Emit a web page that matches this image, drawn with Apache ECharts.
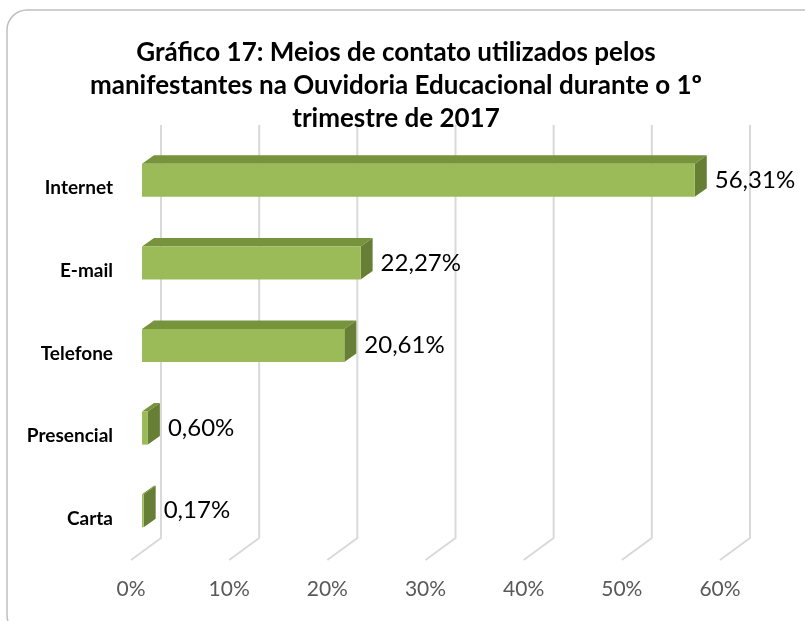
<!DOCTYPE html>
<html>
<head>
<meta charset="utf-8">
<script src="https://cdn.jsdelivr.net/npm/echarts@6/dist/echarts.min.js"></script>
<style>
  html, body { margin: 0; padding: 0; background: #fff; }
  #chart { width: 805px; height: 621px; }
</style>
</head>
<body>
<div id="chart"></div>
<script>
  // dados do gráfico
  var categorias = ['Carta', 'Presencial', 'Telefone', 'E-mail', 'Internet'];
  var valores = [0.17, 0.60, 20.61, 22.27, 56.31];
  var rotulos = ['0,17%', '0,60%', '20,61%', '22,27%', '56,31%'];
  var ticks = [0, 10, 20, 30, 40, 50, 60];

  var fonte = 'Lato, "Open Sans", sans-serif';
  // profundidade do efeito 3D (pixels)
  var DX = 30, DY = 22;

  var chart = echarts.init(document.getElementById('chart'));

  chart.setOption({
    animation: false,
    title: {
      text: 'Gráfico 17: Meios de contato utilizados pelos\nmanifestantes na Ouvidoria Educacional durante o 1º\ntrimestre de 2017',
      left: 391,
      textAlign: 'center',
      top: 31,
      textStyle: {
        fontFamily: fonte,
        fontSize: 26,
        fontWeight: 'bold',
        color: '#000',
        lineHeight: 33
      }
    },
    graphic: [{
      type: 'rect',
      shape: { x: 7, y: 10, width: 820, height: 625, r: 20 },
      style: { fill: null, stroke: '#BFBFBF', lineWidth: 1.5 },
      silent: true
    }],
    grid: { left: 131, right: 85, top: 147, bottom: 61 },
    xAxis: {
      type: 'value',
      min: 0,
      max: 60,
      interval: 10,
      axisLine: { show: false },
      axisTick: { show: false },
      splitLine: { show: false },
      axisLabel: {
        margin: 19,
        fontFamily: fonte,
        fontSize: 21,
        color: '#595959',
        formatter: '{value}%'
      }
    },
    yAxis: {
      type: 'category',
      data: categorias,
      axisLine: { show: false },
      axisTick: { show: false },
      axisLabel: {
        margin: 18,
        fontFamily: fonte,
        fontSize: 19,
        fontWeight: 'bold',
        color: '#000'
      }
    },
    series: [
      {
        // linhas de grade em perspectiva
        type: 'custom',
        silent: true,
        z: 1,
        data: ticks.map(function (t) { return [t, 0]; }),
        encode: { x: 0 },
        renderItem: function (params, api) {
          var x = api.coord([api.value(0), 0])[0];
          var r = params.coordSys;
          var yb = r.y + r.height;
          return {
            type: 'polyline',
            shape: { points: [[x, yb], [x + DX, yb - DY], [x + DX, r.y - DY]] },
            style: { stroke: '#D9D9D9', lineWidth: 2, fill: null }
          };
        }
      },
      {
        // barras 3D
        type: 'custom',
        z: 2,
        data: valores.map(function (v, i) { return [v, i, rotulos[i]]; }),
        encode: { x: 0, y: 1 },
        renderItem: function (params, api) {
          var v = api.value(0), c = api.value(1);
          var p0 = api.coord([0, c]);
          var p1 = api.coord([v, c]);
          var h = api.size([0, 1])[1] * 0.4;
          var off = 11, dx = 12, dy = 8.5;
          var x0 = p0[0] + off, x1 = p1[0] + off;
          var top = p0[1] - 8 - h / 2, bot = top + h;
          return {
            type: 'group',
            children: [
              {
                type: 'polygon',
                shape: { points: [[x0, top], [x0 + dx, top - dy], [x1 + dx, top - dy], [x1, top]] },
                style: { fill: '#77933C' }
              },
              {
                type: 'polygon',
                shape: { points: [[x1, top], [x1 + dx, top - dy], [x1 + dx, bot - dy], [x1, bot]] },
                style: { fill: '#667F35' }
              },
              {
                type: 'rect',
                shape: { x: x0, y: top, width: x1 - x0, height: h },
                style: { fill: '#9BBB59' }
              },
              {
                type: 'text',
                style: {
                  x: x1 + dx + 8,
                  y: top + h / 2,
                  text: api.value(2),
                  verticalAlign: 'middle',
                  fontFamily: fonte,
                  fontSize: 24,
                  fill: '#000'
                }
              }
            ]
          };
        }
      }
    ]
  });
</script>
</body>
</html>
